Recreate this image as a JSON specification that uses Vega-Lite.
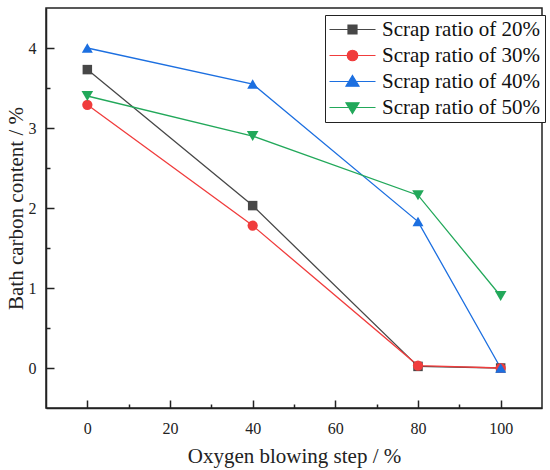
{
  "$schema": "https://vega.github.io/schema/vega-lite/v6.json",
  "width": 496,
  "height": 400,
  "autosize": {"type": "none"},
  "padding": {"left": 46, "top": 8, "right": 8, "bottom": 62},
  "background": "white",
  "config": {
    "font": "Liberation Serif",
    "view": {"stroke": "#222222", "strokeWidth": 1.5},
    "axis": {"grid": false, "domainColor": "#222222", "domainWidth": 1.5, "tickColor": "#222222", "tickWidth": 1.5, "labelColor": "#222222", "titleColor": "#222222", "labelFont": "Liberation Serif", "titleFont": "Liberation Serif", "titleFontWeight": "normal"}
  },
  "data": {"values": [
    {"step": 0, "c": 3.73, "series": "Scrap ratio of 20%"},
    {"step": 40, "c": 2.03, "series": "Scrap ratio of 20%"},
    {"step": 80, "c": 0.02, "series": "Scrap ratio of 20%"},
    {"step": 100, "c": 0.0, "series": "Scrap ratio of 20%"},
    {"step": 0, "c": 3.29, "series": "Scrap ratio of 30%"},
    {"step": 40, "c": 1.78, "series": "Scrap ratio of 30%"},
    {"step": 80, "c": 0.03, "series": "Scrap ratio of 30%"},
    {"step": 100, "c": 0.0, "series": "Scrap ratio of 30%"},
    {"step": 0, "c": 4.0, "series": "Scrap ratio of 40%"},
    {"step": 40, "c": 3.55, "series": "Scrap ratio of 40%"},
    {"step": 80, "c": 1.83, "series": "Scrap ratio of 40%"},
    {"step": 100, "c": 0.0, "series": "Scrap ratio of 40%"},
    {"step": 0, "c": 3.40, "series": "Scrap ratio of 50%"},
    {"step": 40, "c": 2.90, "series": "Scrap ratio of 50%"},
    {"step": 80, "c": 2.16, "series": "Scrap ratio of 50%"},
    {"step": 100, "c": 0.90, "series": "Scrap ratio of 50%"}
  ]},
  "layer": [
    {
      "mark": {"type": "line", "strokeWidth": 1.3},
      "encoding": {
        "x": {"field": "step", "type": "quantitative", "scale": {"domain": [-10, 110], "nice": false, "zero": false},
              "axis": {"values": [0, 20, 40, 60, 80, 100], "tickSize": -8, "labelPadding": 20, "labelFontSize": 16, "title": "Oxygen blowing step / %", "titleFontSize": 21, "titlePadding": 9, "labelFlush": false}},
        "y": {"field": "c", "type": "quantitative", "scale": {"domain": [-0.5, 4.5], "nice": false, "zero": false},
              "axis": {"values": [0, 1, 2, 3, 4], "tickSize": -8, "labelPadding": 18, "labelFontSize": 16, "title": "Bath carbon content / %", "titleFontSize": 21, "titlePadding": 2, "labelFlush": false}},
        "color": {"field": "series", "type": "nominal", "title": null, "scale": {"range": ["#474747", "#f03c3c", "#1c6fe0", "#22a85a"]},
                  "legend": {
                    "orient": "none", "legendX": 279, "legendY": 7,
                    "strokeColor": "#222222", "fillColor": "white", "padding": 4,
                    "labelFontSize": 21, "labelFont": "Liberation Serif", "labelColor": "#111111",
                    "symbolSize": 100, "symbolOffset": 13, "labelOffset": 19, "rowPadding": 4,
                    "encode": {"symbols": {"update": {
                      "strokeWidth": {"value": 1.2},
                      "fill": {"scale": "color", "field": "value"},
                      "stroke": {"scale": "color", "field": "value"},
                      "shape": {"signal": "datum.value == 'Scrap ratio of 20%' ? 'M-4.6,0H4.6M-0.9,-0.9H0.9V0.9H-0.9Z' : datum.value == 'Scrap ratio of 30%' ? 'M-4.6,0H4.6M1.05,0A1.05,1.05,0,1,1,-1.05,0A1.05,1.05,0,1,1,1.05,0Z' : datum.value == 'Scrap ratio of 40%' ? 'M-4.6,0H4.6M0,-1.2L1.3,0.95H-1.3Z' : 'M-4.6,0H4.6M0,1.2L1.3,-0.95H-1.3Z'"}
                    }}}
                  }},
        "detail": {"field": "series"}
      }
    },
    {
      "mark": {"type": "point", "filled": true, "opacity": 1},
      "encoding": {
        "x": {"field": "step", "type": "quantitative",
              "axis": {"orient": "bottom", "values": [10, 30, 50, 70, 90], "tickSize": -4, "labels": false, "domain": false, "title": null}},
        "y": {"field": "c", "type": "quantitative",
              "axis": {"orient": "left", "values": [0.5, 1.5, 2.5, 3.5], "tickSize": -4, "labels": false, "domain": false, "title": null}},
        "color": {"field": "series", "type": "nominal", "title": null},
        "shape": {"field": "series", "type": "nominal", "scale": {"range": ["square", "circle", "triangle-up", "triangle-down"]}, "legend": null},
        "size": {"field": "series", "type": "nominal", "scale": {"range": [90, 135, 170, 170]}, "legend": null}
      }
    }
  ],
  "resolve": {"axis": {"x": "independent", "y": "independent"}}
}
